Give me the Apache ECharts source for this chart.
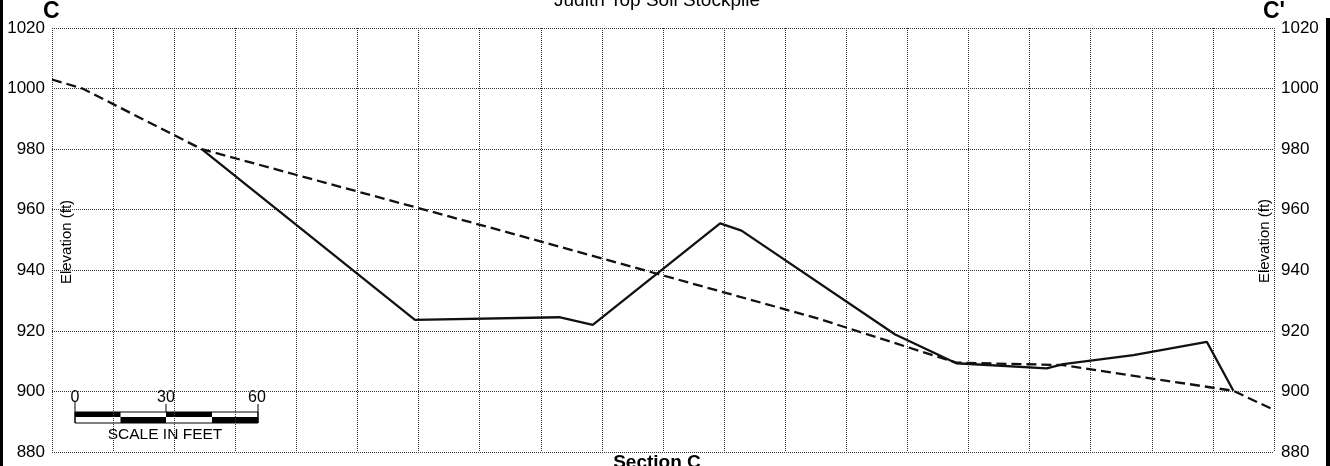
<!DOCTYPE html>
<html><head><meta charset="utf-8">
<script src="https://cdn.jsdelivr.net/npm/echarts@6/dist/echarts.min.js"></script>
<style>html,body{margin:0;padding:0;background:#fff}#c{width:1330px;height:466px}</style>
</head><body><div id="c"></div>
<script>
// ---- data ----
const chartTitle = 'Judith Top Soil Stockpile';
const sectionLabel = 'Section C';
const startLabel = 'C';
const endLabel = "C'";
const yAxisName = 'Elevation (ft)';
const scaleLabels = ['0', '30', '60'];
const scaleCaption = 'SCALE IN FEET';
const yTicks = [880, 900, 920, 940, 960, 980, 1000, 1020];
// existing ground (solid)
const solidDist = [49, 118.8, 166, 177, 218.7, 225.7, 276, 296, 325.6, 331, 354, 378, 386.7];
const solidElev = [980, 923.6, 924.5, 922, 955.5, 953.1, 918.8, 909.3, 907.6, 909, 912, 916.4, 900.2];
// design / original surface (dashed)
const dashDist = [0, 10, 49, 150, 250, 296, 331, 386.7, 400];
const dashElev = [1003, 1000, 980, 952.3, 924.3, 909.5, 908.7, 900.2, 893.9];

const zip = (a, b) => a.map((v, i) => [v, b[i]]);
const FONT = '"Liberation Sans", Arial, sans-serif';

const chart = echarts.init(document.getElementById('c'), null, {renderer: 'canvas'});
const gridLine = {show: true, lineStyle: {color: '#333', type: 'dotted', width: 1}};
const yBase = {
  type: 'value', min: yTicks[0], max: yTicks[yTicks.length - 1], interval: 20,
  axisLine: {show: false}, axisTick: {show: false},
  axisLabel: {color: '#000', fontSize: 17, fontFamily: FONT, margin: 7, formatter: v => String(v)}
};
const txt = (x, y, text, font, align, valign, extra) => Object.assign({
  type: 'text', x: x, y: y,
  style: {text: text, font: font + ' ' + FONT, fill: '#000', textAlign: align, textVerticalAlign: valign}
}, extra || {});
chart.setOption({
  animation: false,
  backgroundColor: '#fff',
  grid: {left: 52, right: 56, top: 28, bottom: 14, containLabel: false, outerBoundsMode: 'none'},
  xAxis: {
    type: 'value', min: 0, max: 400, interval: 20,
    axisLine: {show: false}, axisTick: {show: false}, axisLabel: {show: false},
    splitLine: gridLine
  },
  yAxis: [
    Object.assign({}, yBase, {position: 'left', splitLine: gridLine}),
    Object.assign({}, yBase, {position: 'right', splitLine: {show: false}})
  ],
  series: [
    {type: 'line', data: zip(dashDist, dashElev), symbol: 'none', silent: true,
     lineStyle: {color: '#111', width: 2.3, type: [10, 5]}},
    {type: 'line', data: zip(solidDist, solidElev), symbol: 'none', silent: true,
     lineStyle: {color: '#111', width: 2.3}}
  ],
  graphic: [
    {type: 'rect', shape: {x: 0, y: 0, width: 3, height: 466}, style: {fill: '#000'}},
    {type: 'rect', shape: {x: 1326, y: 18, width: 4, height: 448}, style: {fill: '#000'}},
    txt(657, 10, chartTitle, '19px', 'center', 'bottom'),
    txt(43, 23, startLabel, 'bold 23px', 'left', 'bottom'),
    txt(1263, 23, endLabel, 'bold 23px', 'left', 'bottom'),
    txt(657, 472, sectionLabel, 'bold 19px', 'center', 'bottom'),
    txt(67, 242, yAxisName, '15px', 'center', 'middle', {rotation: Math.PI / 2}),
    txt(1265, 241, yAxisName, '15px', 'center', 'middle', {rotation: Math.PI / 2}),
    // scale bar
    {type: 'rect', shape: {x: 75, y: 412, width: 183, height: 11}, style: {fill: '#fff', stroke: '#000', lineWidth: 1}},
    {type: 'rect', shape: {x: 75, y: 412, width: 45.5, height: 5}, style: {fill: '#000'}},
    {type: 'rect', shape: {x: 120.5, y: 417, width: 45.5, height: 6}, style: {fill: '#000'}},
    {type: 'rect', shape: {x: 166, y: 412, width: 46, height: 5}, style: {fill: '#000'}},
    {type: 'rect', shape: {x: 212, y: 417, width: 46, height: 6}, style: {fill: '#000'}},
    {type: 'line', shape: {x1: 75, y1: 402, x2: 75, y2: 423}, style: {stroke: '#000', lineWidth: 1}},
    {type: 'line', shape: {x1: 166, y1: 404, x2: 166, y2: 412}, style: {stroke: '#000', lineWidth: 1}},
    {type: 'line', shape: {x1: 258, y1: 404, x2: 258, y2: 423}, style: {stroke: '#000', lineWidth: 1}},
    txt(75, 406, scaleLabels[0], '16px', 'center', 'bottom'),
    txt(166, 406, scaleLabels[1], '16px', 'center', 'bottom'),
    txt(257, 406, scaleLabels[2], '16px', 'center', 'bottom'),
    txt(165, 443, scaleCaption, '15.5px', 'center', 'bottom')
  ]
});
</script></body></html>
